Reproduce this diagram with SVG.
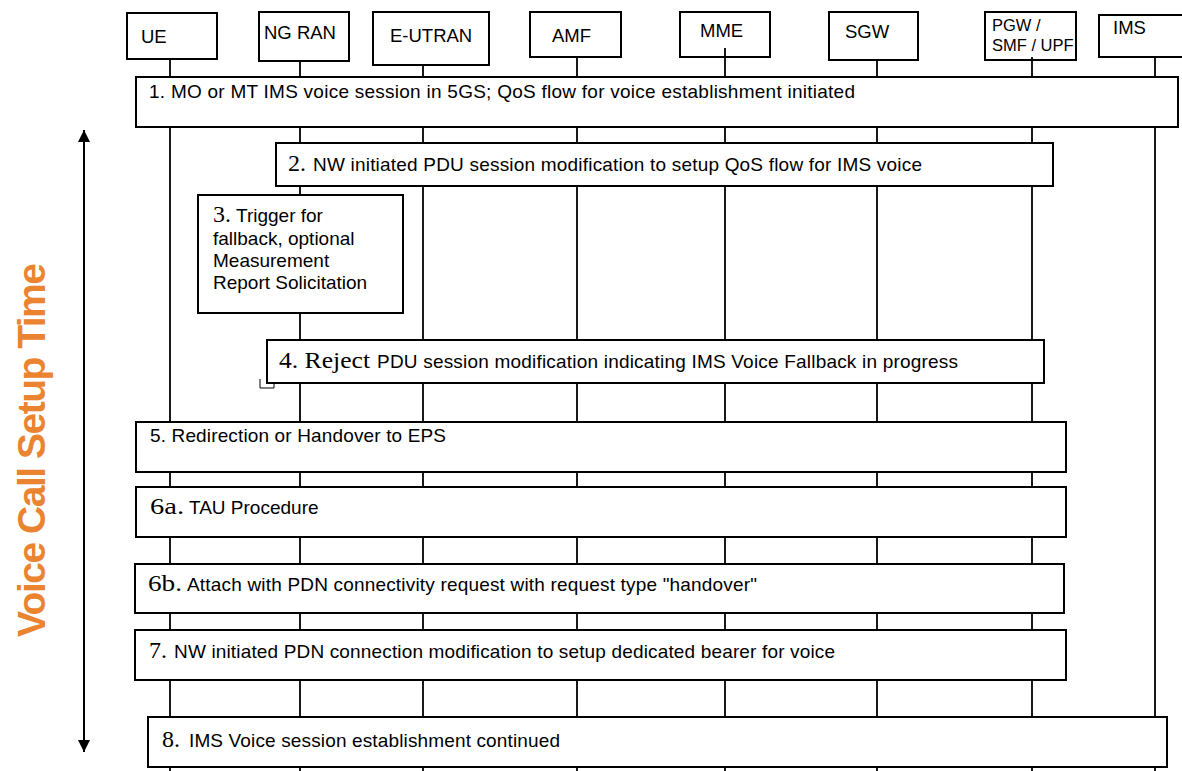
<svg xmlns="http://www.w3.org/2000/svg" width="1182" height="771" viewBox="0 0 1182 771">
<style>
.bx{fill:#fff;stroke:#000;stroke-width:2}
.ll{stroke:#000;stroke-width:1.8;fill:none}
.t{font-family:"Liberation Sans",Arial,sans-serif;font-size:19px;fill:#000}
.h{font-family:"Liberation Sans",Arial,sans-serif;font-size:18.5px;fill:#000}
.s{font-family:"Liberation Serif","Times New Roman",serif;font-size:24px;fill:#000}
</style>
<defs>
<marker id="ah" viewBox="0 0 10 10" refX="10" refY="5" markerWidth="12" markerHeight="12" markerUnits="userSpaceOnUse" orient="auto-start-reverse">
<path d="M0,0 L10,5 L0,10 Z" fill="#000"/>
</marker>
</defs>
<rect width="1182" height="771" fill="#fff"/>

<g id="connectors">
<line class="ll" x1="170" y1="59" x2="170" y2="771"/>
<line class="ll" x1="300" y1="61" x2="300" y2="771"/>
<line class="ll" x1="423" y1="65" x2="423" y2="771"/>
<line class="ll" x1="577" y1="57" x2="577" y2="771"/>
<line class="ll" x1="725" y1="48" x2="725" y2="771"/>
<line class="ll" x1="877" y1="60" x2="877" y2="771"/>
<line class="ll" x1="1032" y1="57" x2="1032" y2="771"/>
<line class="ll" x1="1155" y1="57" x2="1155" y2="771"/>
<line x1="84" y1="130" x2="84" y2="752" stroke="#000" stroke-width="2" marker-start="url(#ah)" marker-end="url(#ah)"/>
</g>

<g id="node-ue"><rect class="bx" x="127" y="13" width="90" height="46"/><text class="h" x="141" y="43">UE</text></g>
<g id="node-ngran"><rect class="bx" x="259" y="12" width="90" height="49"/><text class="h" x="264" y="39">NG RAN</text></g>
<g id="node-eutran"><rect class="bx" x="373" y="12" width="116" height="53"/><text class="h" x="390" y="42">E-UTRAN</text></g>
<g id="node-amf"><rect class="bx" x="530" y="12" width="91" height="45"/><text class="h" x="552" y="42">AMF</text></g>
<g id="node-mme"><rect class="bx" x="680" y="12" width="90" height="45"/><text class="h" x="700" y="37">MME</text><line class="ll" x1="725" y1="48" x2="725" y2="57"/></g>
<g id="node-sgw"><rect class="bx" x="829" y="12" width="89" height="48"/><text class="h" x="845" y="38">SGW</text></g>
<g id="node-pgw"><rect class="bx" x="985" y="12" width="91" height="48"/><text class="h" x="992" y="31" style="font-size:16.5px">PGW /</text><text class="h" x="992" y="51" style="font-size:16.5px">SMF / UPF</text><rect x="985" y="12" width="91" height="48" fill="none" stroke="#000" stroke-width="2"/><line class="ll" x1="1032" y1="57" x2="1032" y2="60"/></g>
<g id="node-ims"><rect class="bx" x="1099" y="15" width="95" height="42"/><text class="h" x="1113" y="34">IMS</text></g>

<g id="step1"><rect class="bx" x="136" y="77" width="1042" height="50"/><text class="t" x="149" y="98" textLength="706">1. MO or MT IMS voice session in 5GS; QoS flow for voice establishment initiated</text></g>
<g id="step2"><rect class="bx" x="276" y="143" width="777" height="43"/><text class="s" x="288" y="171">2.</text><text class="t" x="313" y="171" textLength="609">NW initiated PDU session modification to setup QoS flow for IMS voice</text></g>
<g id="step3"><rect class="bx" x="198" y="195" width="205" height="118"/><text class="s" x="213" y="222">3.</text><text class="t" x="236" y="222">Trigger for</text><text class="t" x="213" y="245">fallback, optional</text><text class="t" x="213" y="267">Measurement</text><text class="t" x="213" y="289">Report Solicitation</text></g>
<g id="step4"><path d="M260,379 V388 H274 V383" fill="none" stroke="#000" stroke-width="1"/><rect class="bx" x="267" y="340" width="777" height="43"/><text class="s" x="279" y="368" textLength="91" lengthAdjust="spacingAndGlyphs">4. Reject</text><text class="t" x="377" y="368" textLength="581">PDU session modification indicating IMS Voice Fallback in progress</text></g>
<g id="step5"><rect class="bx" x="136" y="422" width="930" height="50"/><text class="t" x="150" y="442" textLength="296">5. Redirection or Handover to EPS</text></g>
<g id="step6a"><rect class="bx" x="136" y="487" width="930" height="50"/><text class="s" x="150" y="514" textLength="34" lengthAdjust="spacingAndGlyphs">6a.</text><text class="t" x="189" y="514">TAU Procedure</text></g>
<g id="step6b"><rect class="bx" x="135" y="564" width="929" height="49"/><text class="s" x="148" y="591" textLength="34" lengthAdjust="spacingAndGlyphs">6b.</text><text class="t" x="187" y="591" textLength="570">Attach with PDN connectivity request with request type "handover"</text></g>
<g id="step7"><rect class="bx" x="135" y="630" width="931" height="50"/><text class="s" x="149" y="658">7.</text><text class="t" x="174" y="658" textLength="661">NW initiated PDN connection modification to setup dedicated bearer for voice</text></g>
<g id="step8"><rect class="bx" x="148" y="717" width="1019" height="50"/><text class="s" x="162" y="747">8.</text><text class="t" x="189" y="747" textLength="371">IMS Voice session establishment continued</text></g>

<g id="label-time"><text x="0" y="0" transform="translate(45,450) rotate(-90)" text-anchor="middle" textLength="374" style="font-family:'Liberation Sans',Arial,sans-serif;font-weight:bold;font-size:39px;fill:#EB8430">Voice Call Setup Time</text></g>
</svg>
